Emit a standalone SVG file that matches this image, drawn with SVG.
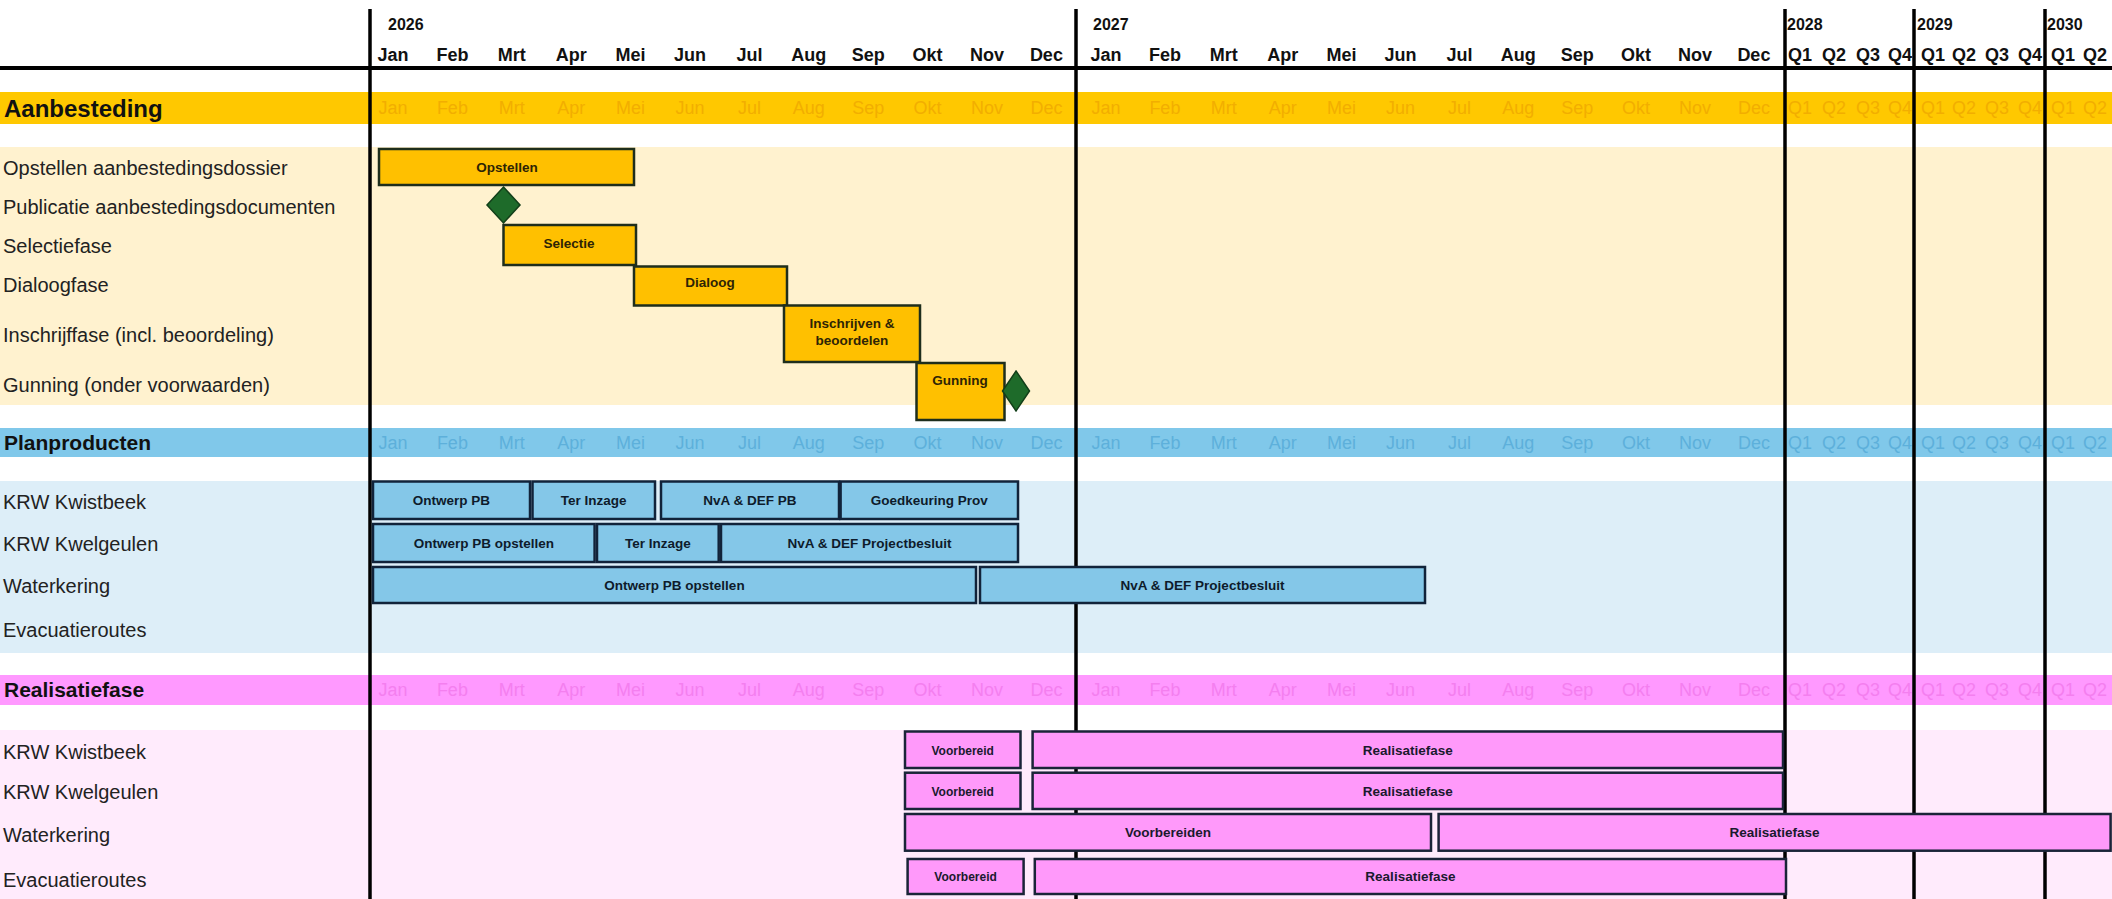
<svg xmlns="http://www.w3.org/2000/svg" width="2112" height="899" viewBox="0 0 2112 899">
<style>
.hdr{font-family:"Liberation Sans",Arial,sans-serif;font-weight:bold;font-size:18px;fill:#111;text-anchor:middle}
.yr{font-family:"Liberation Sans",Arial,sans-serif;font-weight:bold;font-size:16px;fill:#111}
.bl{font-family:"Liberation Sans",Arial,sans-serif;font-size:18px;text-anchor:middle}
.bl-y{fill:#F2AE00}
.bl-b{fill:#5DB0DB}
.bl-p{fill:#F47FEF}
.sec{font-family:"Liberation Sans",Arial,sans-serif;font-weight:bold;font-size:21px;fill:#111}
.lbl{font-family:"Liberation Sans",Arial,sans-serif;font-size:20px;fill:#222}
.grid{stroke:#000;stroke-width:3.5}
.by{fill:#FFC000;stroke:#1E2E1C;stroke-width:2.5}
.bb{fill:#84C7E8;stroke:#11233A;stroke-width:2.5}
.bp{fill:#FF99FA;stroke:#1A2438;stroke-width:2.5}
.ms{fill:#1E6B2A;stroke:#123F19;stroke-width:1.5}
.bt{font-family:"Liberation Sans",Arial,sans-serif;font-weight:bold;font-size:13.5px;text-anchor:middle}
.ty{fill:#2E2405}
.tb{fill:#0E1B2B}
.tp{fill:#1A1A2E}
</style>
<rect width="2112" height="899" fill="#FFFFFF"/>
<g id="backgrounds">
<rect x="0" y="92" width="2112" height="32" fill="#FFC800"/>
<rect x="0" y="147" width="2112" height="258" fill="#FFF2CF"/>
<rect x="0" y="428" width="2112" height="29" fill="#80C8EA"/>
<rect x="0" y="481" width="2112" height="172" fill="#DDEEF8"/>
<rect x="0" y="675" width="2112" height="30" fill="#FF99FF"/>
<rect x="0" y="730" width="2112" height="169" fill="#FFEBFC"/>
</g>
<g id="header">
<text class="yr" x="388" y="30">2026</text>
<text class="yr" x="1093" y="30">2027</text>
<text class="yr" x="1787" y="30">2028</text>
<text class="yr" x="1917" y="30">2029</text>
<text class="yr" x="2047" y="30">2030</text>
<text class="hdr" y="61"><tspan x="393">Jan</tspan><tspan x="452.4">Feb</tspan><tspan x="511.8">Mrt</tspan><tspan x="571.2">Apr</tspan><tspan x="630.6">Mei</tspan><tspan x="690">Jun</tspan><tspan x="749.4">Jul</tspan><tspan x="808.8">Aug</tspan><tspan x="868.2">Sep</tspan><tspan x="927.6">Okt</tspan><tspan x="987">Nov</tspan><tspan x="1046.4">Dec</tspan><tspan x="1106">Jan</tspan><tspan x="1164.9">Feb</tspan><tspan x="1223.8">Mrt</tspan><tspan x="1282.7">Apr</tspan><tspan x="1341.6">Mei</tspan><tspan x="1400.5">Jun</tspan><tspan x="1459.4">Jul</tspan><tspan x="1518.3">Aug</tspan><tspan x="1577.2">Sep</tspan><tspan x="1636.1">Okt</tspan><tspan x="1695">Nov</tspan><tspan x="1753.9">Dec</tspan><tspan x="1800">Q1</tspan><tspan x="1834">Q2</tspan><tspan x="1868">Q3</tspan><tspan x="1900">Q4</tspan><tspan x="1933">Q1</tspan><tspan x="1964">Q2</tspan><tspan x="1997">Q3</tspan><tspan x="2030">Q4</tspan><tspan x="2063">Q1</tspan><tspan x="2095">Q2</tspan></text>
</g>
<g id="band-labels">
<text class="bl bl-y" y="114"><tspan x="393">Jan</tspan><tspan x="452.4">Feb</tspan><tspan x="511.8">Mrt</tspan><tspan x="571.2">Apr</tspan><tspan x="630.6">Mei</tspan><tspan x="690">Jun</tspan><tspan x="749.4">Jul</tspan><tspan x="808.8">Aug</tspan><tspan x="868.2">Sep</tspan><tspan x="927.6">Okt</tspan><tspan x="987">Nov</tspan><tspan x="1046.4">Dec</tspan><tspan x="1106">Jan</tspan><tspan x="1164.9">Feb</tspan><tspan x="1223.8">Mrt</tspan><tspan x="1282.7">Apr</tspan><tspan x="1341.6">Mei</tspan><tspan x="1400.5">Jun</tspan><tspan x="1459.4">Jul</tspan><tspan x="1518.3">Aug</tspan><tspan x="1577.2">Sep</tspan><tspan x="1636.1">Okt</tspan><tspan x="1695">Nov</tspan><tspan x="1753.9">Dec</tspan><tspan x="1800">Q1</tspan><tspan x="1834">Q2</tspan><tspan x="1868">Q3</tspan><tspan x="1900">Q4</tspan><tspan x="1933">Q1</tspan><tspan x="1964">Q2</tspan><tspan x="1997">Q3</tspan><tspan x="2030">Q4</tspan><tspan x="2063">Q1</tspan><tspan x="2095">Q2</tspan></text>
<text class="bl bl-b" y="449"><tspan x="393">Jan</tspan><tspan x="452.4">Feb</tspan><tspan x="511.8">Mrt</tspan><tspan x="571.2">Apr</tspan><tspan x="630.6">Mei</tspan><tspan x="690">Jun</tspan><tspan x="749.4">Jul</tspan><tspan x="808.8">Aug</tspan><tspan x="868.2">Sep</tspan><tspan x="927.6">Okt</tspan><tspan x="987">Nov</tspan><tspan x="1046.4">Dec</tspan><tspan x="1106">Jan</tspan><tspan x="1164.9">Feb</tspan><tspan x="1223.8">Mrt</tspan><tspan x="1282.7">Apr</tspan><tspan x="1341.6">Mei</tspan><tspan x="1400.5">Jun</tspan><tspan x="1459.4">Jul</tspan><tspan x="1518.3">Aug</tspan><tspan x="1577.2">Sep</tspan><tspan x="1636.1">Okt</tspan><tspan x="1695">Nov</tspan><tspan x="1753.9">Dec</tspan><tspan x="1800">Q1</tspan><tspan x="1834">Q2</tspan><tspan x="1868">Q3</tspan><tspan x="1900">Q4</tspan><tspan x="1933">Q1</tspan><tspan x="1964">Q2</tspan><tspan x="1997">Q3</tspan><tspan x="2030">Q4</tspan><tspan x="2063">Q1</tspan><tspan x="2095">Q2</tspan></text>
<text class="bl bl-p" y="696"><tspan x="393">Jan</tspan><tspan x="452.4">Feb</tspan><tspan x="511.8">Mrt</tspan><tspan x="571.2">Apr</tspan><tspan x="630.6">Mei</tspan><tspan x="690">Jun</tspan><tspan x="749.4">Jul</tspan><tspan x="808.8">Aug</tspan><tspan x="868.2">Sep</tspan><tspan x="927.6">Okt</tspan><tspan x="987">Nov</tspan><tspan x="1046.4">Dec</tspan><tspan x="1106">Jan</tspan><tspan x="1164.9">Feb</tspan><tspan x="1223.8">Mrt</tspan><tspan x="1282.7">Apr</tspan><tspan x="1341.6">Mei</tspan><tspan x="1400.5">Jun</tspan><tspan x="1459.4">Jul</tspan><tspan x="1518.3">Aug</tspan><tspan x="1577.2">Sep</tspan><tspan x="1636.1">Okt</tspan><tspan x="1695">Nov</tspan><tspan x="1753.9">Dec</tspan><tspan x="1800">Q1</tspan><tspan x="1834">Q2</tspan><tspan x="1868">Q3</tspan><tspan x="1900">Q4</tspan><tspan x="1933">Q1</tspan><tspan x="1964">Q2</tspan><tspan x="1997">Q3</tspan><tspan x="2030">Q4</tspan><tspan x="2063">Q1</tspan><tspan x="2095">Q2</tspan></text>
</g>
<g id="row-labels">
<text class="sec" x="4" y="117" style="font-size:24px">Aanbesteding</text>
<text class="lbl" x="3" y="175">Opstellen aanbestedingsdossier</text>
<text class="lbl" x="3" y="214">Publicatie aanbestedingsdocumenten</text>
<text class="lbl" x="3" y="253">Selectiefase</text>
<text class="lbl" x="3" y="292">Dialoogfase</text>
<text class="lbl" x="3" y="342">Inschrijffase (incl. beoordeling)</text>
<text class="lbl" x="3" y="392">Gunning (onder voorwaarden)</text>
<text class="sec" x="4" y="450">Planproducten</text>
<text class="lbl" x="3" y="509">KRW Kwistbeek</text>
<text class="lbl" x="3" y="551">KRW Kwelgeulen</text>
<text class="lbl" x="3" y="593">Waterkering</text>
<text class="lbl" x="3" y="637">Evacuatieroutes</text>
<text class="sec" x="4" y="697">Realisatiefase</text>
<text class="lbl" x="3" y="759">KRW Kwistbeek</text>
<text class="lbl" x="3" y="799">KRW Kwelgeulen</text>
<text class="lbl" x="3" y="842">Waterkering</text>
<text class="lbl" x="3" y="887">Evacuatieroutes</text>
</g>
<g id="connectors">
<line class="grid" x1="0" y1="68" x2="2112" y2="68" style="stroke-width:4"/>
<line class="grid" x1="370" y1="9" x2="370" y2="899"/>
<line class="grid" x1="1076" y1="9" x2="1076" y2="899"/>
<line class="grid" x1="1785" y1="9" x2="1785" y2="899"/>
<line class="grid" x1="1914" y1="9" x2="1914" y2="899"/>
<line class="grid" x1="2045" y1="9" x2="2045" y2="899"/>
</g>
<g id="aanbesteding-bars">
<g id="bar-opstellen"><rect class="by" x="379" y="149" width="255" height="36"/><text class="bt ty" x="507" y="172">Opstellen</text></g>
<g id="ms-publicatie"><polygon class="ms" points="503.5,187 520,205 503.5,223 487,205"/></g>
<g id="bar-selectie"><rect class="by" x="503.5" y="225" width="132.5" height="40"/><text class="bt ty" x="569" y="248">Selectie</text></g>
<g id="bar-dialoog"><rect class="by" x="634" y="266.5" width="153" height="39"/><text class="bt ty" x="710" y="287">Dialoog</text></g>
<g id="bar-inschrijven"><rect class="by" x="784" y="305.5" width="136" height="56.5"/><text class="bt ty" x="852" y="327.5">Inschrijven &amp;</text><text class="bt ty" x="852" y="345">beoordelen</text></g>
<g id="bar-gunning"><rect class="by" x="916.5" y="363" width="88" height="57"/><text class="bt ty" x="960" y="385">Gunning</text></g>
<g id="ms-gunning"><polygon class="ms" points="1016,371 1029.5,391 1016,411 1002.5,391"/></g>
</g>
<g id="planproducten-bars">
<g id="pp-kwist-1"><rect class="bb" x="373" y="481.5" width="157" height="37.5"/><text class="bt tb" x="451.5" y="505">Ontwerp PB</text></g>
<g id="pp-kwist-2"><rect class="bb" x="532.5" y="481.5" width="122.5" height="37.5"/><text class="bt tb" x="593.7" y="505">Ter Inzage</text></g>
<g id="pp-kwist-3"><rect class="bb" x="661" y="481.5" width="178" height="37.5"/><text class="bt tb" x="750" y="505">NvA &amp; DEF  PB</text></g>
<g id="pp-kwist-4"><rect class="bb" x="840.6" y="481.5" width="177.4" height="37.5"/><text class="bt tb" x="929.3" y="505">Goedkeuring Prov</text></g>
<g id="pp-kwel-1"><rect class="bb" x="373" y="524" width="221.6" height="38"/><text class="bt tb" x="483.8" y="548">Ontwerp PB opstellen</text></g>
<g id="pp-kwel-2"><rect class="bb" x="597" y="524" width="121.7" height="38"/><text class="bt tb" x="657.8" y="548">Ter Inzage</text></g>
<g id="pp-kwel-3"><rect class="bb" x="721" y="524" width="297" height="38"/><text class="bt tb" x="869.5" y="548">NvA &amp; DEF Projectbesluit</text></g>
<g id="pp-water-1"><rect class="bb" x="373" y="567" width="603" height="36"/><text class="bt tb" x="674.5" y="590">Ontwerp PB opstellen</text></g>
<g id="pp-water-2"><rect class="bb" x="980" y="567" width="445" height="36"/><text class="bt tb" x="1202.5" y="590">NvA &amp; DEF Projectbesluit</text></g>
</g>
<g id="realisatie-bars">
<g id="rf-kwist-1"><rect class="bp" x="905" y="731.5" width="115.5" height="36.5"/><text class="bt tp" x="962.7" y="754.5" style="font-size:12px">Voorbereid</text></g>
<g id="rf-kwist-2"><rect class="bp" x="1032.6" y="731.5" width="750.4" height="36.5"/><text class="bt tp" x="1407.8" y="754.5">Realisatiefase</text></g>
<g id="rf-kwel-1"><rect class="bp" x="905" y="772.7" width="115.5" height="36.3"/><text class="bt tp" x="962.7" y="795.5" style="font-size:12px">Voorbereid</text></g>
<g id="rf-kwel-2"><rect class="bp" x="1032.6" y="772.7" width="750.4" height="36.3"/><text class="bt tp" x="1407.8" y="795.5">Realisatiefase</text></g>
<g id="rf-water-1"><rect class="bp" x="905" y="814" width="526" height="36.7"/><text class="bt tp" x="1168" y="837">Voorbereiden</text></g>
<g id="rf-water-2"><rect class="bp" x="1438.6" y="814" width="672" height="36.7"/><text class="bt tp" x="1774.6" y="837">Realisatiefase</text></g>
<g id="rf-evac-1"><rect class="bp" x="907.6" y="859" width="116" height="35"/><text class="bt tp" x="965.6" y="881" style="font-size:12px">Voorbereid</text></g>
<g id="rf-evac-2"><rect class="bp" x="1034.8" y="859" width="751.2" height="35"/><text class="bt tp" x="1410.4" y="881">Realisatiefase</text></g>
</g>
</svg>
